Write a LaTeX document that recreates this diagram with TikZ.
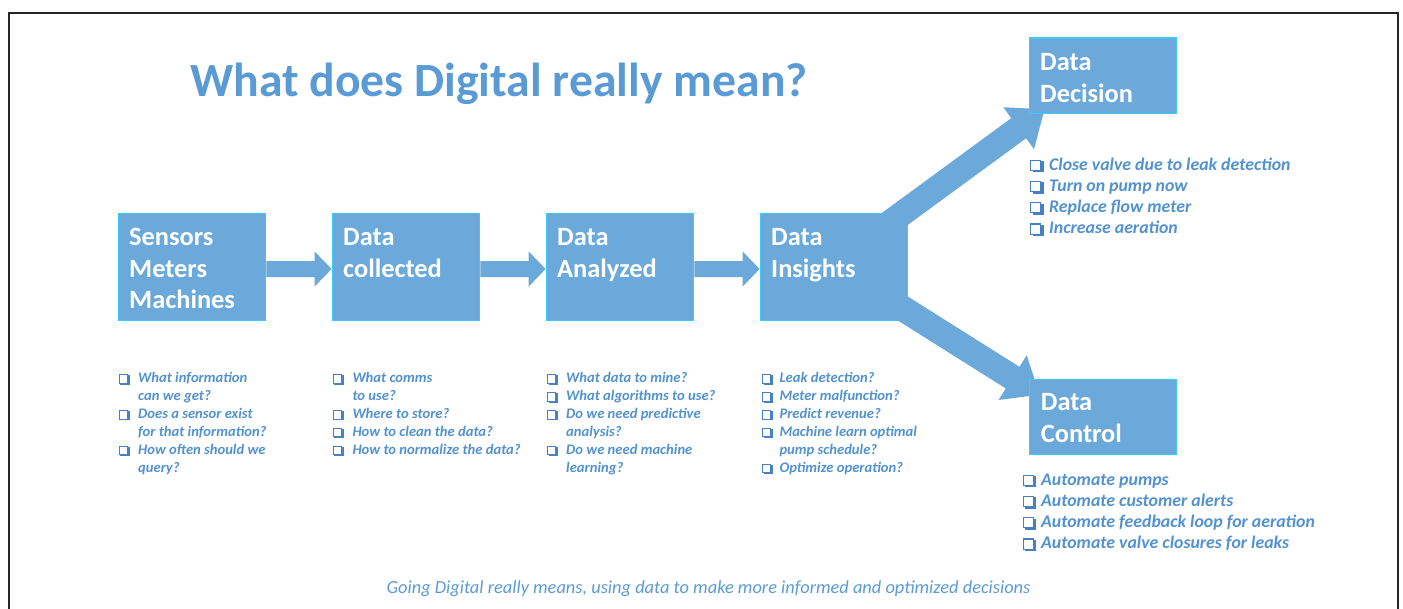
\documentclass[tikz,border=0pt]{standalone}
\usepackage{fontspec}
\setmainfont{Carlito}
\usetikzlibrary{calc}

\definecolor{boxfill}{RGB}{107,169,219}
\definecolor{boxline}{RGB}{60,200,250}
\definecolor{titleblue}{RGB}{91,155,213}
\definecolor{listblue}{RGB}{82,146,208}
\definecolor{tickblue}{RGB}{70,130,195}

% shadowed square bullet
\newlength\qind
\newcommand\qbx{{\setlength\fboxsep{0pt}\setlength\fboxrule{0.06em}%
  \rlap{\hspace*{0.13em}\raisebox{-0.13em}{\color{tickblue}\rule{0.63em}{0.63em}}}%
  \fcolorbox{tickblue}{white}{\rule{0pt}{0.51em}\hspace{0.51em}}}}
\newcommand\itm[1]{\makebox[\qind][l]{\qbx}#1}
\newcommand\cnt[1]{\hspace*{\qind}#1}
\newcommand\setind[1]{\global\qind=#1\relax}

% thick block arrow: tail, tip, shaft half width, head half width, head length
\newcommand\fatarrow[5]{%
  \coordinate (fa-h) at ($(#2)!#5!(#1)$);
  \fill[boxfill] ($(#1)!#3!90:(#2)$) -- ($(fa-h)!#3!-90:(#1)$) -- ($(fa-h)!#4!-90:(#1)$)
    -- (#2) -- ($(fa-h)!#4!90:(#1)$) -- ($(fa-h)!#3!90:(#1)$) -- ($(#1)!#3!-90:(#2)$) -- cycle;}

% multi-line texts are placed by the baseline of their last line
\tikzset{
  stagebox/.style={draw=boxline, line width=1.2pt, fill=boxfill, rectangle, inner sep=0pt},
  bigbox/.style={stagebox, minimum width=147.5pt, minimum height=107.5pt},
  endbox/.style={stagebox, minimum width=147pt, minimum height=75.5pt},
  stagetext/.style={anchor=base west, inner sep=0pt, align=left, text=white,
    font=\fontsize{26.4}{31.5}\selectfont\bfseries},
  qlist/.style={anchor=base west, inner sep=0pt, align=left, text=listblue,
    font=\fontsize{14.6}{17.9}\selectfont\bfseries\itshape},
  qlistbig/.style={qlist, font=\fontsize{17.8}{21.2}\selectfont\bfseries\itshape},
  frameline/.style={draw=black!85, line width=1.6pt}
}

\begin{document}
\begin{tikzpicture}[x=1pt, y=-1pt]
\useasboundingbox (0,0) rectangle (1403,608);

% page frame, open at the bottom
\draw[frameline] (9,612) |- (1398,13) -- (1398,612);

% title
\node[anchor=base west, inner sep=0pt, text=titleblue,
  font=\fontsize{47.7}{57}\selectfont\bfseries] (title) at (190,96.7)
  {What does Digital really mean?};

% pipeline stages
\node[bigbox] (b1) at (192,267) {};
\node[bigbox] (b2) at (406,267) {};
\node[bigbox] (b3) at (620,267) {};
\node[bigbox] (b4) at (834,267) {};

\node[stagetext] (t1) at (129,308.7) {Sensors\\Meters\\Machines};
\node[stagetext] (t2) at (343,277.2) {Data\\collected};
\node[stagetext] (t3) at (557,277.2) {Data\\Analyzed};
\node[stagetext] (t4) at (771,277.2) {Data\\Insights};

% arrows between stages
\path (b1.east) ++(0,2) coordinate (a1s);
\path (b2.west) ++(0,2) coordinate (a1t);
\path (b2.east) ++(0,2) coordinate (a2s);
\path (b3.west) ++(0,2) coordinate (a2t);
\path (b3.east) ++(0,2) coordinate (a3s);
\path (b4.west) ++(0,2) coordinate (a3t);
\fatarrow{a1s}{a1t}{8pt}{17.5pt}{17pt}
\fatarrow{a2s}{a2t}{8pt}{17.5pt}{17pt}
\fatarrow{a3s}{a3t}{8pt}{17.5pt}{17pt}

% branches out of the insights stage
\coordinate (ups) at (864.7,241);
\coordinate (upt) at (1044.5,109.3);
\coordinate (dns) at (881.4,295);
\coordinate (dnt) at (1039.7,394.7);
\fatarrow{ups}{upt}{12.5pt}{26pt}{32pt}
\fatarrow{dns}{dnt}{12.8pt}{26.4pt}{32pt}

% outcome boxes
\node[endbox] (dec) at (1103.2,75.8) {};
\node[endbox] (ctl) at (1102.8,417) {};
\node[stagetext] (tdec) at (1040,102.2) {Data\\Decision};
\node[stagetext] (tctl) at (1040.7,442.2) {Data\\Control};

% question lists
\node[qlist] (q1) at (118.3,472.2) {\setind{19.7pt}%
  \itm{What information}\\\cnt{can we get?}\\
  \itm{Does a sensor exist}\\\cnt{for that information?}\\
  \itm{How often should we}\\\cnt{query?}};
\node[qlist] (q2) at (332.3,454.3) {\setind{20pt}%
  \itm{What comms}\\\cnt{to use?}\\
  \itm{Where to store?}\\
  \itm{How to clean the data?}\\
  \itm{How to normalize the data?}};
\node[qlist] (q3) at (546.7,472.2) {\setind{19.3pt}%
  \itm{What data to mine?}\\
  \itm{What algorithms to use?}\\
  \itm{Do we need predictive}\\\cnt{analysis?}\\
  \itm{Do we need machine}\\\cnt{learning?}};
\node[qlist] (q4) at (761.7,472.2) {\setind{17.6pt}%
  \itm{Leak detection?}\\
  \itm{Meter malfunction?}\\
  \itm{Predict revenue?}\\
  \itm{Machine learn optimal}\\\cnt{pump schedule?}\\
  \itm{Optimize operation?}};

% outcome lists
\node[qlistbig] (qd) at (1030,233.6) {\setind{19pt}%
  \itm{Close valve due to leak detection}\\
  \itm{Turn on pump now}\\
  \itm{Replace flow meter}\\
  \itm{Increase aeration}};
\node[qlistbig] (qc) at (1022.3,548.6) {\setind{18.7pt}%
  \itm{Automate pumps}\\
  \itm{Automate customer alerts}\\
  \itm{Automate feedback loop for aeration}\\
  \itm{Automate valve closures for leaks}};

% closing statement
\node[anchor=base, inner sep=0pt, text=titleblue,
  font=\fontsize{18.4}{22}\selectfont\itshape] (foot) at (708.5,593.3)
  {Going Digital really means, using data to make more informed and optimized decisions};
\end{tikzpicture}
\end{document}
